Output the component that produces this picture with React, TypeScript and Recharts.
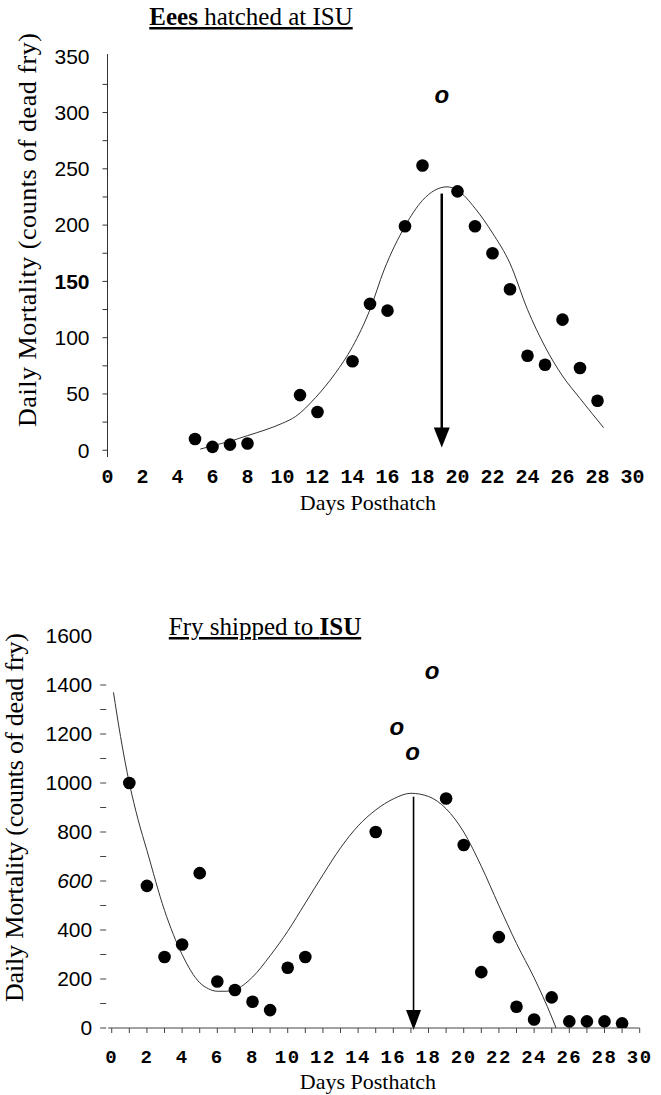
import React from 'react';
import { ComposedChart, XAxis, YAxis, Scatter, Line, ReferenceLine, Label } from 'recharts';

// ---------- Top panel: Eggs hatched at ISU ----------
const topDays = [5, 6, 7, 8, 11, 12, 14, 15, 16, 17, 18, 20, 21, 22, 23, 24, 25, 26, 27, 28];
const topCounts = [10, 3, 5, 6, 49, 34, 79, 130, 124, 199, 253, 230, 199, 175, 143, 84, 76, 116, 73, 44];
const topOutlierDays = [19.1];
const topOutlierCounts = [314];
const topFitDays = [5.3, 6, 7, 8, 9, 10, 10.75, 11.9, 13, 14, 15, 15.8, 17, 18, 19.4, 20, 21, 22, 23, 24, 25, 26, 27, 28.35];
const topFitCounts = [1, 4, 8, 13, 18, 24, 30, 47, 68, 92, 125, 160, 199, 222, 234, 231, 215, 193, 166, 125, 92, 66, 46, 20];
const topPeakDay = 19.1;
const topPeakCount = 228;
const topArrowEnd = 2.5;
const topXTicks = [0, 2, 4, 6, 8, 10, 12, 14, 16, 18, 20, 22, 24, 26, 28, 30];
const topYTicks = [0, 25, 50, 75, 100, 125, 150, 175, 200, 225, 250, 275, 300, 325, 350];

// ---------- Bottom panel: Fry shipped to ISU ----------
const botDays = [1, 2, 3, 4, 5, 6, 7, 8, 9, 10, 11, 15, 19, 20, 21, 22, 23, 24, 25, 26, 27, 28, 29];
const botCounts = [1000, 580, 290, 341, 632, 190, 155, 107, 73, 246, 290, 800, 937, 747, 228, 371, 87, 35, 125, 27, 27, 27, 19];
const botOutlierDays = [16.2, 17.1, 18.2];
const botOutlierCounts = [1223, 1121, 1448];
const botFitDays = [0.1, 0.5, 1, 1.5, 2, 3, 4, 5, 5.5, 6, 6.5, 7, 8, 9, 10, 11, 12, 13, 14, 15, 16, 17, 18, 19, 20, 21, 22, 23, 24, 25, 25.25];
const botFitCounts = [1370, 1190, 1000, 850, 725, 480, 300, 185, 160, 150, 150, 156, 208, 295, 395, 510, 625, 735, 825, 890, 935, 958, 945, 895, 800, 660, 500, 345, 205, 45, 0];
const botPeakDay = 17.15;
const botPeakCount = 944;
const botArrowEnd = 0;
const botXTicks = Array.from({ length: 31 }, (_, i) => i);
const botYTicks = [0, 100, 200, 300, 400, 500, 600, 700, 800, 900, 1000, 1100, 1200, 1300, 1400, 1500, 1600];

const zip = (xs: number[], ys: number[]) => xs.map((d, i) => ({ d, v: ys[i] }));
const topPoints = zip(topDays, topCounts);
const topOutliers = zip(topOutlierDays, topOutlierCounts);
const topFit = zip(topFitDays, topFitCounts);
const botPoints = zip(botDays, botCounts);
const botOutliers = zip(botOutlierDays, botOutlierCounts);
const botFit = zip(botFitDays, botFitCounts);

const SERIF = '"Liberation Serif", "Times New Roman", serif';
const SANS = '"Liberation Sans", Arial, sans-serif';
const MONO = '"Liberation Mono", "Courier New", monospace';

const Dot = (p: any) => <circle cx={p.cx} cy={p.cy} r={6.3} fill="#000" />;
const OMark = (p: any) => (
  <text x={p.cx} y={p.cy} dy="0.26em" textAnchor="middle" fontFamily={SANS} fontStyle="italic" fontWeight="bold" fontSize={24} fill="#000">
    o
  </text>
);

const makeArrow = (sw: number, headH: number, headW: number, extra: number) => (p: any) => {
  const x = p.x1;
  const top = Math.min(p.y1, p.y2);
  const tip = Math.max(p.y1, p.y2) + extra;
  return (
    <g>
      <line x1={x} x2={x} y1={top} y2={tip - headH + 2} stroke="#000" strokeWidth={sw} />
      <polygon points={`${x - headW / 2},${tip - headH} ${x + headW / 2},${tip - headH} ${x},${tip}`} fill="#000" />
    </g>
  );
};

const TopYTick = (p: any) => {
  const { x, y, payload } = p;
  const v = payload.value;
  return (
    <g>
      {v <= 325 && <line x1={x - 5} x2={x} y1={y} y2={y} stroke="#333" strokeWidth={1} />}
      {v % 50 === 0 && (
        <text x={x - 18} y={y} dy="0.35em" textAnchor="end" fontFamily={SANS} fontSize={21} fontWeight={v === 150 ? 'bold' : 'normal'} fill="#000">
          {v}
        </text>
      )}
    </g>
  );
};

const TopXTick = (p: any) => {
  const { x, y, payload } = p;
  return (
    <text x={x} y={y + 26} textAnchor="middle" fontFamily={MONO} fontWeight="bold" fontSize={20} fill="#000">
      {payload.value}
    </text>
  );
};

const BotYTick = (p: any) => {
  const { x, y, payload } = p;
  const v = payload.value;
  return (
    <g>
      {v <= 1400 && <line x1={x - 8} x2={x - 2} y1={y} y2={y} stroke="#444" strokeWidth={1} />}
      {v % 200 === 0 && (
        <text x={x - 16} y={y} dy="0.35em" textAnchor="end" fontFamily={SANS} fontSize={21} fontStyle={v === 600 ? 'italic' : 'normal'} fill="#000">
          {v}
        </text>
      )}
    </g>
  );
};

const BotXTick = (p: any) => {
  const { x, y, payload } = p;
  const v = payload.value;
  return (
    <g>
      <line x1={x} x2={x} y1={y} y2={y + 5} stroke="#444" strokeWidth={1} />
      {v % 2 === 0 && (
        <text x={x} y={y + 35} textAnchor="middle" fontFamily={MONO} fontWeight="bold" fontSize={19} letterSpacing={1.5} fill="#000">
          {v}
        </text>
      )}
    </g>
  );
};

const yLabel = (x: number, cy: number, len: number) => () => (
  <text
    x={x}
    y={cy}
    transform={`rotate(-90, ${x}, ${cy})`}
    textAnchor="middle"
    fontFamily={SERIF}
    fontSize={26}
    textLength={len}
    lengthAdjust="spacing"
    fill="#000"
  >
    Daily Mortality (counts of dead fry)
  </text>
);

const xLabel = (cx: number, y: number) => () => (
  <text x={cx} y={y} textAnchor="middle" fontFamily={SERIF} fontSize={22} fill="#000">
    Days Posthatch
  </text>
);

function TopChart() {
  return (
    <ComposedChart width={661} height={530} margin={{ top: 54, right: 28.5, bottom: 33, left: 47.5 }}>
      <XAxis
        type="number"
        dataKey="d"
        domain={[0, 30]}
        ticks={topXTicks}
        interval={0}
        axisLine={false}
        tickLine={false}
        tickSize={0}
        tickMargin={0}
        height={40}
        tick={<TopXTick />}
        allowDataOverflow
      >
        <Label content={xLabel(368, 510)} />
      </XAxis>
      <YAxis
        type="number"
        dataKey="v"
        domain={[-6, 352]}
        ticks={topYTicks}
        interval={0}
        width={60}
        axisLine={{ stroke: '#333', strokeWidth: 1 }}
        tickLine={false}
        tickSize={0}
        tickMargin={0}
        tick={<TopYTick />}
        allowDataOverflow
      >
        <Label content={yLabel(36, 230, 394)} />
      </YAxis>
      <Line data={topFit} dataKey="v" type="monotone" stroke="#333" strokeWidth={1} dot={false} isAnimationActive={false} />
      <ReferenceLine
        segment={[{ x: topPeakDay, y: topPeakCount }, { x: topPeakDay, y: topArrowEnd }]}
        shape={makeArrow(2.5, 20, 16, 0)}
        ifOverflow="visible"
      />
      <Scatter data={topPoints} dataKey="v" shape={Dot} isAnimationActive={false} />
      <Scatter data={topOutliers} dataKey="v" shape={OMark} isAnimationActive={false} />
    </ComposedChart>
  );
}

function BottomChart() {
  return (
    <ComposedChart width={661} height={535} margin={{ top: 76, right: 21.3, bottom: 37, left: 48.2 }}>
      <XAxis
        type="number"
        dataKey="d"
        domain={[-0.2, 30]}
        ticks={botXTicks}
        interval={0}
        axisLine={{ stroke: '#444', strokeWidth: 1 }}
        tickLine={false}
        tickSize={0}
        tickMargin={0}
        height={30}
        tick={<BotXTick />}
        allowDataOverflow
      >
        <Label content={xLabel(368, 529)} />
      </XAxis>
      <YAxis
        type="number"
        dataKey="v"
        domain={[0, 1600]}
        ticks={botYTicks}
        interval={0}
        width={60}
        axisLine={false}
        tickLine={false}
        tickSize={0}
        tickMargin={0}
        tick={<BotYTick />}
        allowDataOverflow
      >
        <Label content={yLabel(23, 257.5, 369)} />
      </YAxis>
      <Line data={botFit} dataKey="v" type="monotone" stroke="#333" strokeWidth={1} dot={false} isAnimationActive={false} />
      <ReferenceLine
        segment={[{ x: botPeakDay, y: botPeakCount }, { x: botPeakDay, y: botArrowEnd }]}
        shape={makeArrow(1.6, 20, 15, 2)}
        ifOverflow="visible"
      />
      <Scatter data={botPoints} dataKey="v" shape={Dot} isAnimationActive={false} />
      <Scatter data={botOutliers} dataKey="v" shape={OMark} isAnimationActive={false} />
    </ComposedChart>
  );
}

export default function App() {
  return (
    <div style={{ position: 'relative', width: 661, height: 1095, background: '#fff', overflow: 'hidden' }}>
      <style>{`body{margin:0;background:#fff}`}</style>
      <div style={{ position: 'absolute', left: 0, top: 0 }}>
        <TopChart />
      </div>
      <div style={{ position: 'absolute', left: 0, top: 560 }}>
        <BottomChart />
      </div>
      <svg width={661} height={1095} style={{ position: 'absolute', left: 0, top: 0, pointerEvents: 'none' }}>
        <text x={251} y={25} textAnchor="middle" fontFamily={SERIF} fontSize={25} fill="#000" style={{ textDecoration: 'underline' }}>
          <tspan fontWeight="bold">Eees</tspan> hatched at ISU
        </text>
        <text x={265} y={635} textAnchor="middle" fontFamily={SERIF} fontSize={25} fill="#000" style={{ textDecoration: 'underline' }}>
          Fry shipped to <tspan fontWeight="bold">ISU</tspan>
        </text>
      </svg>
    </div>
  );
}
